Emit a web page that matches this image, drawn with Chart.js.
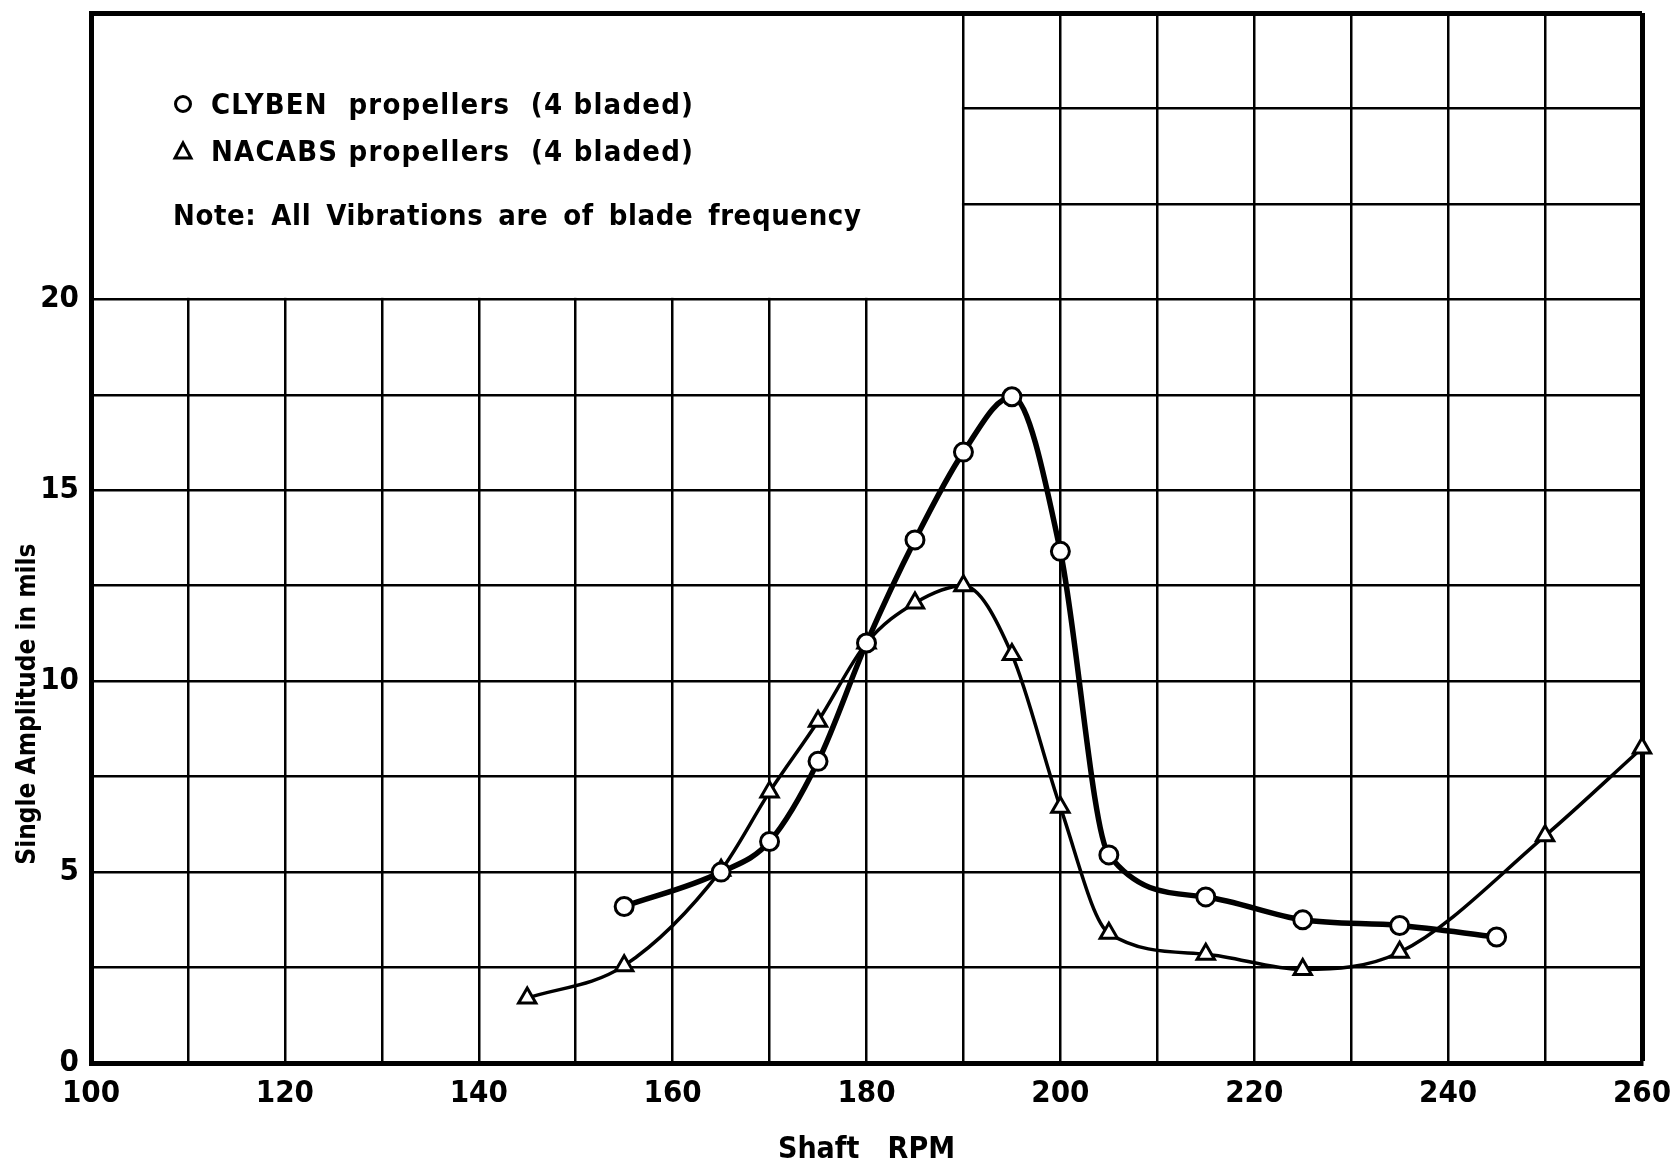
<!DOCTYPE html>
<html>
<head>
<meta charset="utf-8">
<script src="https://cdn.jsdelivr.net/npm/chart.js@4.4.0/dist/chart.umd.min.js"></script>
<style>
  html, body { margin: 0; padding: 0; background: #fff; }
</style>
</head>
<body>
<canvas id="grafico" width="1675" height="1169"></canvas>
<script>
// dados
const clybenRpm = [155, 165, 170, 175, 180, 185, 190, 195, 200, 205, 215, 225, 235, 245];
const clybenAmp = [4.1, 5.0, 5.8, 7.9, 11.0, 13.7, 16.0, 17.45, 13.4, 5.45, 4.35, 3.75, 3.6, 3.3];
const nacabsRpm = [145, 155, 165, 170, 175, 180, 185, 190, 195, 200, 205, 215, 225, 235, 250, 260];
const nacabsAmp = [1.7, 2.55, 5.05, 7.1, 8.95, 11.0, 12.05, 12.5, 10.7, 6.7, 3.4, 2.85, 2.45, 2.9, 5.95, 8.25];
const xLabels = [100, 120, 140, 160, 180, 200, 220, 240, 260];
const yLabels = [0, 5, 10, 15, 20];
const legendLines = ['CLYBEN  propellers  (4 bladed)', 'NACABS propellers  (4 bladed)'];
const noteText = 'Note:  All  Vibrations  are  of  blade  frequency';
const yTitle = 'Single Amplitude in mils';

const FONTE = '"DejaVu Sans Condensed", "Liberation Sans Narrow", "DejaVu Sans", sans-serif';
Chart.defaults.font.family = FONTE;
Chart.defaults.color = '#000';

// caixa branca com a legenda no canto superior esquerdo + titulo do eixo y
const caixaLegenda = {
  id: 'caixaLegenda',
  beforeDatasetsDraw(chart) {
    const { ctx, scales: { x, y } } = chart;
    const l = x.getPixelForValue(100), r = x.getPixelForValue(190);
    const t = y.getPixelForValue(27.5), b = y.getPixelForValue(20);
    ctx.save();
    ctx.fillStyle = '#fff';
    ctx.fillRect(l + 3, t + 3, r - l - 4.5, b - t - 4.5);

    ctx.fillStyle = '#000';
    ctx.strokeStyle = '#000';
    ctx.lineWidth = 3;
    ctx.font = 'bold 29px ' + FONTE;
    ctx.textBaseline = 'middle';
    ctx.letterSpacing = '1.2px';

    // circulo
    ctx.beginPath();
    ctx.arc(l + 92, t + 91, 7.5, 0, Math.PI * 2);
    ctx.stroke();
    ctx.fillText(legendLines[0], l + 120, t + 93);

    // triangulo
    ctx.beginPath();
    ctx.moveTo(l + 92, t + 130);
    ctx.lineTo(l + 100, t + 145);
    ctx.lineTo(l + 84, t + 145);
    ctx.closePath();
    ctx.stroke();
    ctx.fillText(legendLines[1], l + 120, t + 140);

    ctx.letterSpacing = '0.6px';
    ctx.wordSpacing = '-2.2px';
    ctx.fillText(noteText, l + 82, t + 204);
    ctx.restore();
  },
  afterDraw(chart) {
    const { ctx, scales: { y } } = chart;
    ctx.save();
    ctx.translate(28, y.getPixelForValue(9.4));
    ctx.rotate(-Math.PI / 2);
    ctx.font = 'bold 26px ' + FONTE;
    ctx.fillStyle = '#000';
    ctx.textAlign = 'center';
    ctx.textBaseline = 'middle';
    ctx.fillText(yTitle, 0, 0);
    ctx.restore();
  }
};

const ctx = document.getElementById('grafico').getContext('2d');
const grafico = new Chart(ctx, {
  type: 'line',
  data: {
    datasets: [
      {
        label: 'CLYBEN',
        data: clybenRpm.map((v, i) => ({ x: v, y: clybenAmp[i] })),
        borderColor: '#000',
        borderWidth: 5.5,
        cubicInterpolationMode: 'monotone',
        pointStyle: 'circle',
        pointRadius: 9,
        pointBorderWidth: 3,
        pointBackgroundColor: '#fff',
        pointBorderColor: '#000',
        clip: false
      },
      {
        label: 'NACABS',
        data: nacabsRpm.map((v, i) => ({ x: v, y: nacabsAmp[i] })),
        borderColor: '#000',
        borderWidth: 3.5,
        cubicInterpolationMode: 'monotone',
        pointStyle: 'triangle',
        pointRadius: 10,
        pointBorderWidth: 3,
        pointBackgroundColor: '#fff',
        pointBorderColor: '#000',
        clip: false
      }
    ]
  },
  options: {
    responsive: false,
    animation: false,
    devicePixelRatio: 1,
    layout: { padding: { top: 13, right: 33, left: 0, bottom: 0 } },
    plugins: {
      legend: { display: false },
      tooltip: { enabled: false }
    },
    scales: {
      x: {
        type: 'linear',
        min: 100,
        max: 260,
        ticks: {
          stepSize: 10,
          autoSkip: false,
          maxRotation: 0,
          padding: 12,
          font: { size: 31, weight: 'bold' },
          callback: v => xLabels.includes(v) ? String(v) : ''
        },
        grid: {
          color: '#000',
          drawTicks: false,
          lineWidth: c => (c.tick && c.tick.value === 260) ? 5 : 2.5
        },
        border: { color: '#000', width: 5 },
        title: {
          display: true,
          text: 'Shaft   RPM',
          font: { size: 30, weight: 'bold' },
          padding: { top: 0, bottom: 1 }
        },
        afterFit(s) {
          s.height = 106;
          s.paddingLeft = 0;
          s.paddingRight = 0;
        }
      },
      y: {
        min: 0,
        max: 27.5,
        ticks: {
          stepSize: 2.5,
          autoSkip: false,
          padding: 12,
          font: { size: 31, weight: 'bold' },
          callback: v => yLabels.includes(v) ? String(v) : ''
        },
        grid: {
          color: '#000',
          drawTicks: false,
          lineWidth: c => (c.tick && c.tick.value === 27.5) ? 5 : 2.5
        },
        border: { color: '#000', width: 5 },
        title: { display: false },
        afterFit(s) {
          s.width = 91;
          s.paddingTop = 0;
          s.paddingBottom = 0;
        }
      }
    }
  },
  plugins: [caixaLegenda]
});
</script>
</body>
</html>
